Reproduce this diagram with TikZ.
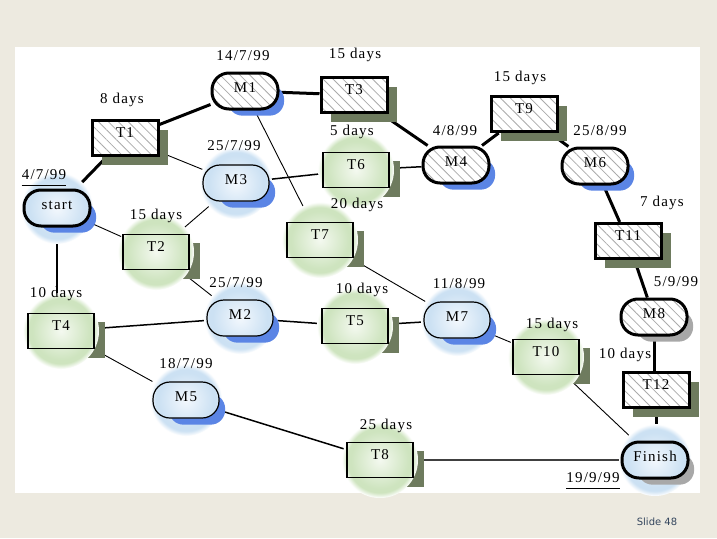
\documentclass[tikz,border=0pt]{standalone}
\usepackage{fontspec}
\setmainfont{Liberation Serif}[LetterSpace=8]
\newfontfamily\slidefont{DejaVu Sans}
\usetikzlibrary{shadows,patterns.meta}
\definecolor{beige}{HTML}{EDEAE0}
\definecolor{gc}{HTML}{F4F9F0}
\definecolor{ge}{HTML}{CEE4BF}
\definecolor{bc}{HTML}{F3F8FD}
\definecolor{be}{HTML}{CCE1F3}
\definecolor{sgreen}{HTML}{6E7B5E}
\definecolor{sblue}{HTML}{5B85E5}
\definecolor{sgray}{HTML}{A8A8A8}
\definecolor{hatchc}{HTML}{ABABAB}
\definecolor{slidec}{HTML}{34465E}
\pgfdeclareradialshading{glowG}{\pgfpoint{0bp}{0bp}}{color(0bp)=(gc); color(19bp)=(ge); color(21.5bp)=(ge); color(25bp)=(white); color(50bp)=(white)}
\pgfdeclareradialshading{glowB}{\pgfpoint{0bp}{0bp}}{color(0bp)=(bc); color(19bp)=(be); color(21.5bp)=(be); color(25bp)=(white); color(50bp)=(white)}
\pgfdeclarelayer{back}
\pgfdeclarelayer{edges}
\pgfdeclarelayer{shad}
\pgfdeclarelayer{glow}
\pgfsetlayers{back,edges,shad,glow,main}
\begin{document}
\begin{tikzpicture}[x=1pt,y=-1pt,
  base/.style={rectangle, inner sep=0pt, minimum width=66pt, font=\fontsize{15}{15}\selectfont, text=black},
  task/.style={base, draw, minimum height=35pt, text height=17pt, text depth=18pt},
  gtask/.style={task, line width=1.2pt,
    path picture={\fill[white] (path picture bounding box.south west) rectangle (path picture bounding box.north east);
      \shade[shading=glowG] (path picture bounding box.center) circle[radius=38pt];}},
  hatch/.style={preaction={fill=white}, pattern={Lines[angle=-45,distance=7pt,line width=0.8pt]}, pattern color=hatchc},
  ctask/.style={task, line width=3pt, drop shadow={fill=sgreen, opacity=1, shadow xshift=10pt, shadow yshift=-9pt}, hatch},
  mile/.style={base, draw, rounded corners=17pt, minimum height=36pt, text height=19pt, text depth=17pt},
  bshadow/.style={drop shadow={fill=sblue, opacity=1, shadow scale=0.85, shadow xshift=13pt, shadow yshift=-11pt}},
  gshadow/.style={drop shadow={fill=sgray, opacity=1, shadow scale=0.85, shadow xshift=13pt, shadow yshift=-11pt}},
  bglowfill/.style={path picture={\fill[white] (path picture bounding box.south west) rectangle (path picture bounding box.north east);
      \shade[shading=glowB] (path picture bounding box.center) circle[radius=36pt];}},
  bmile/.style={mile, bshadow, bglowfill, line width=1.2pt},
  cmile/.style={mile, line width=3pt},
  lbl/.style={inner sep=0pt, font=\fontsize{15}{15}\selectfont},
  ecrit/.style={line width=3pt},
  emed/.style={line width=1.5pt},
  ethin/.style={line width=0.9pt}
]
\begin{pgfonlayer}{back}
  \fill[beige] (0,0) rectangle (717,538);
  \fill[white] (15,47) rectangle (700,493);
\end{pgfonlayer}

% nodes
\node[mile, line width=3pt, bshadow, bglowfill] (start) at (57,208) {start};
\node[ctask] (T1) at (125,138) {T1};
\node[cmile, bshadow, hatch] (M1) at (245,91) {M1};
\node[ctask] (T3) at (354,95) {T3};
\node[bmile] (M3) at (236,183) {M3};
\node[gtask] (T6) at (356,170) {T6};
\node[cmile, bshadow, hatch] (M4) at (456,165) {M4};
\node[gtask] (T7) at (320,240) {T7};
\node[ctask] (T9) at (524,114) {T9};
\node[cmile, bshadow, hatch] (M6) at (595,166) {M6};
\node[ctask] (T11) at (628,241) {T11};
\node[gtask] (T2) at (156,252) {T2};
\node[gtask] (T4) at (61,331) {T4};
\node[bmile] (M2) at (240,318) {M2};
\node[bmile] (M5) at (186,400) {M5};
\node[gtask] (T5) at (355,326) {T5};
\node[bmile] (M7) at (457,320) {M7};
\node[gtask] (T10) at (546,357) {T10};
\node[cmile, gshadow, hatch] (M8) at (654,317) {M8};
\node[ctask] (T12) at (656,390) {T12};
\node[mile, line width=3pt, gshadow, bglowfill] (Finish) at (655,460) {Finish};
\node[gtask] (T8) at (380,460) {T8};

% shadows of plain tasks (under the glows)
\begin{pgfonlayer}{shad}
  \foreach \n in {T2,T4,T5,T6,T7,T8,T10}
    \fill[sgreen] ([xshift=10pt,yshift=-9pt]\n.south west) rectangle ([xshift=10pt,yshift=-9pt]\n.north east);
\end{pgfonlayer}

% glows
\begin{pgfonlayer}{glow}
  \foreach \n in {T2,T4,T5,T6,T7,T8,T10}
    \shade[shading=glowG] (\n.center) circle[radius=38pt];
  \foreach \n in {start,M3,M2,M5,M7,Finish}
    \shade[shading=glowB] (\n.center) circle[radius=36pt];
\end{pgfonlayer}

% connectors
\begin{pgfonlayer}{edges}
  \draw[ecrit] (start) -- (T1);
  \draw[ecrit] (T1) -- (M1);
  \draw[ecrit] (M1) -- (T3);
  \draw[ecrit] (T3) -- (M4);
  \draw[ecrit] (M4) -- (T9);
  \draw[ecrit] (T9) -- (M6);
  \draw[ecrit] (M6) -- (T11);
  \draw[ecrit] (T11) -- (M8);
  \draw[ecrit] (M8.south) -- (M8.south |- T12.north);
  \draw[ecrit] (T12.south) -- (T12.south |- Finish.north);
  \draw[emed] (M3) -- (T6);
  \draw[emed] (T6) -- (M4);
  \draw[emed] (start.south) -- (start.south |- T4.north);
  \draw[emed] (T4) -- (M2);
  \draw[emed] (M2) -- (T5);
  \draw[emed] (T5) -- (M7);
  \draw[emed] (M5) -- (T8);
  \draw[emed, black!75] (T8) -- (Finish);
  \draw[ethin] (T1) -- (M3);
  \draw[ethin] (start) -- (T2);
  \draw[ethin] (M3) -- (T2);
  \draw[ethin] (M1) -- (T7);
  \draw[ethin] (T2) -- (M2);
  \draw[ethin] (T7) -- (M7);
  \draw[ethin] (T4) -- (M5);
  \draw[ethin] (M7) -- (T10);
  \draw[ethin] (T10) -- (Finish);
\end{pgfonlayer}

% labels
\node[lbl] (d1) at (243,56) {14/7/99};
\node[lbl] (d2) at (355,55) {15 days};
\node[lbl] (d3) at (122,100) {8 days};
\node[lbl] (d4) at (520,78) {15 days};
\node[lbl] (d5) at (234,146) {25/7/99};
\node[lbl] (d6) at (352,132) {5 days};
\node[lbl] (d7) at (455,131) {4/8/99};
\node[lbl] (d8) at (600,131) {25/8/99};
\node[lbl] (d9) at (44,175) {4/7/99};
\node[lbl] (d10) at (156,216) {15 days};
\node[lbl] (d11) at (357,205) {20 days};
\node[lbl] (d12) at (662,203) {7 days};
\node[lbl] (d13) at (236,283) {25/7/99};
\node[lbl] (d14) at (56,294) {10 days};
\node[lbl] (d15) at (362,290) {10 days};
\node[lbl] (d16) at (459,284) {11/8/99};
\node[lbl] (d17) at (676,282) {5/9/99};
\node[lbl] (d18) at (552,325) {15 days};
\node[lbl] (d19) at (625,355) {10 days};
\node[lbl] (d20) at (186,364) {18/7/99};
\node[lbl] (d21) at (386,426) {25 days};
\node[lbl] (d22) at (593,478) {19/9/99};
\draw[line width=0.9pt] ([yshift=-5pt]d9.south west) -- ([yshift=-5pt]d9.south east);
\draw[line width=0.9pt] ([yshift=-5pt]d22.south west) -- ([yshift=-5pt]d22.south east);
\node[inner sep=0pt, font=\slidefont\fontsize{10}{10}\selectfont, text=slidec] (sl) at (657,522) {Slide 48};
\end{tikzpicture}
\end{document}
